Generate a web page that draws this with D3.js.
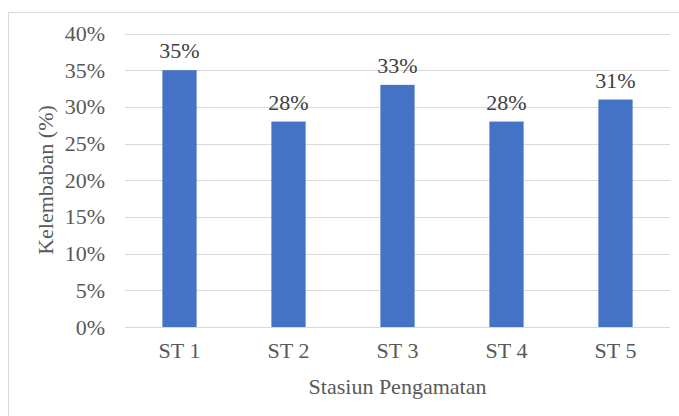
<!DOCTYPE html>
<html>
<head>
	<title>Kelembaban</title>
	<script src="https://d3js.org/d3.v7.min.js"></script>
	<style>
		body { margin: 0; background: #fff; font-family: "Liberation Serif", "Times New Roman", serif; }
	</style>
</head>
<body>
	<div id="chart"></div>

	<script type="text/javascript">
		var stations = ["ST 1", "ST 2", "ST 3", "ST 4", "ST 5"];
		var humidity = [35, 28, 33, 28, 31];
		var yTicks = [0, 5, 10, 15, 20, 25, 30, 35, 40];

		var FONT = "'Liberation Serif', 'Times New Roman', serif";
		var FSIZE = "22px";
		var width = 679, height = 416;
		var margin = {top: 33.5, right: 9, bottom: 89, left: 125};

		var svg = d3.select("#chart")
			.append("svg")
			.attr("width", width)
			.attr("height", height)
			.style("font-family", FONT);

		// chart border
		svg.append("rect")
			.attr("x", 8.5)
			.attr("y", 12.5)
			.attr("width", 680)
			.attr("height", 420)
			.attr("fill", "none")
			.attr("stroke", "#d9d9d9")
			.attr("stroke-width", 1);

		var x = d3.scaleBand()
			.domain(stations)
			.range([margin.left, width - margin.right])
			.paddingInner(0.686)
			.paddingOuter(0.343);

		var y = d3.scaleLinear()
			.domain([0, 40])
			.range([height - margin.bottom, margin.top]);

		// gridlines
		svg.append("g")
			.selectAll("line")
			.data(yTicks)
			.enter().append("line")
			.attr("x1", margin.left)
			.attr("x2", width - margin.right)
			.attr("y1", function(d){ return Math.round(y(d)) + 0.5; })
			.attr("y2", function(d){ return Math.round(y(d)) + 0.5; })
			.attr("stroke", "#d9d9d9")
			.attr("stroke-width", 1);

		// y tick labels
		var yAxis = d3.axisLeft(y)
			.tickValues(yTicks)
			.tickSize(0)
			.tickPadding(20)
			.tickFormat(function(d){ return d + "%"; });

		var yg = svg.append("g")
			.attr("transform", "translate(" + margin.left + ",0)")
			.call(yAxis);
		yg.attr("font-family", null).attr("font-size", null);
		yg.select(".domain").remove();
		yg.selectAll("text")
			.attr("fill", "#595959")
			.style("font-family", FONT)
			.style("font-size", FSIZE);

		// x tick labels
		var xAxis = d3.axisBottom(x).tickSize(0).tickPadding(15);
		var xg = svg.append("g")
			.attr("transform", "translate(0," + (height - margin.bottom) + ")")
			.call(xAxis);
		xg.attr("font-family", null).attr("font-size", null);
		xg.select(".domain").remove();
		xg.selectAll("text")
			.attr("fill", "#595959")
			.style("font-family", FONT)
			.style("font-size", FSIZE);

		// bars
		svg.append("g")
			.selectAll("rect")
			.data(humidity)
			.enter().append("rect")
			.attr("x", function(d, i){ return x(stations[i]); })
			.attr("y", function(d){ return y(d); })
			.attr("width", x.bandwidth())
			.attr("height", function(d){ return y(0) - y(d); })
			.attr("fill", "#4472c4");

		// data labels
		svg.append("g")
			.selectAll("text")
			.data(humidity)
			.enter().append("text")
			.attr("x", function(d, i){ return x(stations[i]) + x.bandwidth() / 2; })
			.attr("y", function(d){ return y(d) - 12; })
			.attr("text-anchor", "middle")
			.attr("fill", "#404040")
			.style("font-family", FONT)
			.style("font-size", FSIZE)
			.text(function(d){ return d + "%"; });

		// axis titles
		svg.append("text")
			.attr("x", (margin.left + width - margin.right) / 2)
			.attr("y", 394)
			.attr("text-anchor", "middle")
			.attr("fill", "#595959")
			.style("font-family", FONT)
			.style("font-size", FSIZE)
			.text("Stasiun Pengamatan");

		svg.append("text")
			.attr("transform", "translate(53," + 180 + ") rotate(-90)")
			.attr("text-anchor", "middle")
			.attr("fill", "#595959")
			.style("font-family", FONT)
			.style("font-size", FSIZE)
			.text("Kelembaban (%)");
	</script>
</body>
</html>
